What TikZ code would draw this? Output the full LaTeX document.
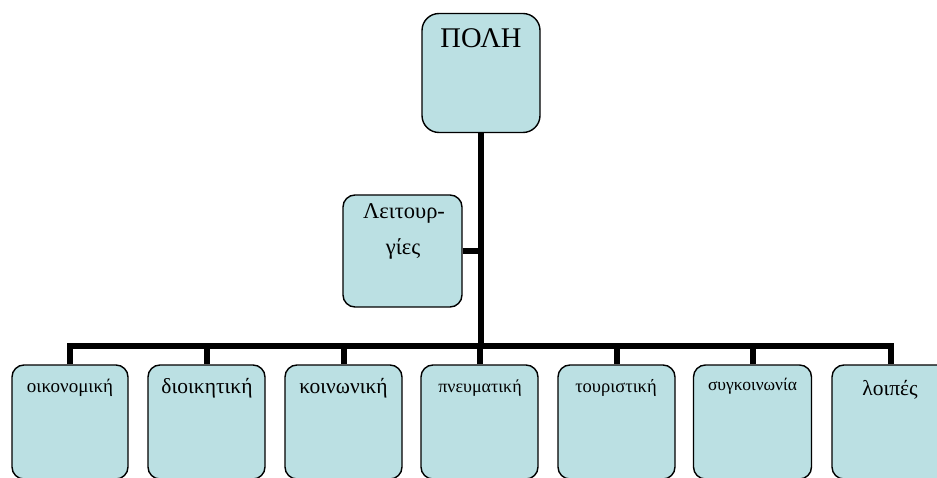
\documentclass[tikz,border=0pt]{standalone}
\usepackage{fontspec}
\setmainfont{Liberation Serif}
\definecolor{boxfill}{RGB}{187,224,227}
\tikzset{
  box/.style={draw=black, line width=1.4pt, fill=boxfill, rounded corners=12pt, inner sep=0pt},
  conn/.style={draw=black, line width=6pt},
  lbl/.style={anchor=base, inner sep=0pt, text=black},
}
\newcommand{\fs}[1]{\fontsize{#1}{#1}\selectfont}
\begin{document}
\begin{tikzpicture}[x=1pt,y=-1pt]
\useasboundingbox (0,0) rectangle (937,478);
\begin{scope}
\clip (0,0) rectangle (937,478);
% connectors
\coordinate (bar) at (481,346);
% boxes
\node[box, rounded corners=17pt, minimum width=118pt, minimum height=119pt] (polh) at (481,73) {};
\node[box, minimum width=119pt, minimum height=112pt] (lei) at (402.5,251) {};
\node[box, minimum width=116pt, minimum height=114pt] (c1) at (70,422) {};
\node[box, minimum width=117pt, minimum height=114pt] (c2) at (206.5,422) {};
\node[box, minimum width=117pt, minimum height=114pt] (c3) at (343.5,422) {};
\node[box, minimum width=117pt, minimum height=114pt] (c4) at (479.5,422) {};
\node[box, minimum width=117pt, minimum height=114pt] (c5) at (616.5,422) {};
\node[box, minimum width=118pt, minimum height=114pt] (c6) at (752.5,422) {};
\node[box, minimum width=117pt, minimum height=114pt] (c7) at (890.5,422) {};
\draw[conn] (polh.south) -- (bar);
\draw[conn] (lei.east) -- (lei.east -| bar);
\foreach \c in {c1,c2,c3,c4,c5,c6,c7}{
  \draw[conn] (\c.north) |- (bar);
}
% texts
\node[lbl, font=\fs{28.5}] (polhT) at (481,48) {ΠΟΛΗ};
\node[lbl, font=\fs{22.5}] (leiT1) at (404,219) {Λειτουρ-};
\node[lbl, font=\fs{22.5}] (leiT2) at (403,255) {γίες};
\node[lbl, font=\fs{19}] (t1) at (70,392) {οικονομική};
\node[lbl, font=\fs{21.5}] (t2) at (207,393) {διοικητική};
\node[lbl, font=\fs{21.5}] (t3) at (343.5,393) {κοινωνική};
\node[lbl, font=\fs{18}] (t4) at (480,392) {πνευματική};
\node[lbl, font=\fs{18.5}] (t5) at (616,392) {τουριστική};
\node[lbl, font=\fs{17.5}] (t6) at (752.5,390) {συγκοινωνία};
\node[lbl, font=\fs{21.5}] (t7) at (890,395) {λοιπές};
\end{scope}
\end{tikzpicture}
\end{document}
